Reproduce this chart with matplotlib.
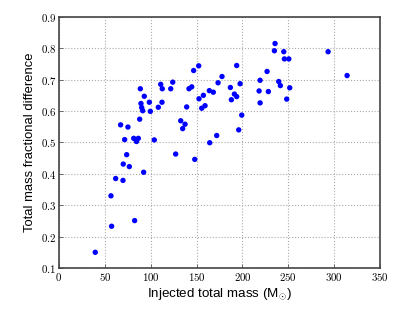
import matplotlib
matplotlib.use("Agg")
import matplotlib.pyplot as plt
from matplotlib.ticker import FuncFormatter

injected_mass = [39.6, 57.4, 82.5, 56.7, 61.8, 69.8, 92.3, 70.1, 76.7, 73.8,
                 127.2, 148.0, 71.6, 67.2, 75.2, 81.5, 86.5, 84.5, 88.0, 88.7,
                 93.0, 89.4, 90.2, 91.3, 98.5, 99.6, 103.9, 108.3, 112.3, 110.9,
                 112.6, 121.8, 124.0, 132.7, 137.4, 134.8, 139.2, 146.8, 152.3, 141.7,
                 144.7, 152.6, 157.4, 155.6, 159.2, 164.3, 171.9, 163.9, 168.2, 173.4,
                 177.7, 186.8, 193.7, 197.4, 191.2, 193.7, 187.9, 199.2, 195.9, 219.2,
                 226.8, 218.1, 228.2, 219.2, 235.5, 234.8, 245.0, 245.7, 250.5, 239.5,
                 241.3, 251.5, 248.2, 293.3, 314.0]
frac_diff = [0.150, 0.233, 0.251, 0.330, 0.385, 0.379, 0.405, 0.431, 0.423, 0.461,
             0.463, 0.446, 0.509, 0.556, 0.549, 0.513, 0.513, 0.503, 0.574, 0.671,
             0.647, 0.624, 0.611, 0.601, 0.628, 0.599, 0.508, 0.612, 0.628, 0.685,
             0.671, 0.671, 0.692, 0.569, 0.558, 0.544, 0.613, 0.729, 0.744, 0.671,
             0.677, 0.639, 0.650, 0.609, 0.617, 0.499, 0.522, 0.665, 0.660, 0.690,
             0.710, 0.675, 0.745, 0.687, 0.654, 0.646, 0.636, 0.587, 0.540, 0.698,
             0.726, 0.664, 0.662, 0.626, 0.815, 0.792, 0.789, 0.766, 0.766, 0.694,
             0.681, 0.674, 0.638, 0.789, 0.713]

x_ticks = [0, 50, 100, 150, 200, 250, 300, 350]
y_ticks = [0.1, 0.2, 0.3, 0.4, 0.5, 0.6, 0.7, 0.8, 0.9]

plt.rcParams['mathtext.fontset'] = 'cm'

fig = plt.figure(figsize=(4.15, 3.12), dpi=100)
ax = fig.add_axes([0.142, 0.141, 0.774, 0.805])
ax.scatter(injected_mass, frac_diff, s=15, color='#0000ff', edgecolors='none', zorder=3)

ax.set_xlim(0, 350)
ax.set_ylim(0.1, 0.9)
ax.set_xticks(x_ticks)
ax.set_yticks(y_ticks)
ax.xaxis.set_major_formatter(FuncFormatter(lambda v, p: r'$%d$' % v))
ax.yaxis.set_major_formatter(FuncFormatter(lambda v, p: r'$%.1f$' % v))
ax.tick_params(direction='in', length=3, width=0.6, labelsize=7.8, pad=2, color='#555555')
ax.grid(True, linestyle=':', color='#aaaaaa', linewidth=0.8)
for s in ax.spines.values():
    s.set_color('#444444')
    s.set_linewidth(1.2)

ax.set_xlabel(r'Injected total mass (M$_{\odot}$)', family='Liberation Sans', fontsize=9.6, labelpad=2)
ax.set_ylabel('Total mass fractional difference', family='Liberation Sans', fontsize=9.4, labelpad=3)

fig.savefig('out.png', dpi=100)
